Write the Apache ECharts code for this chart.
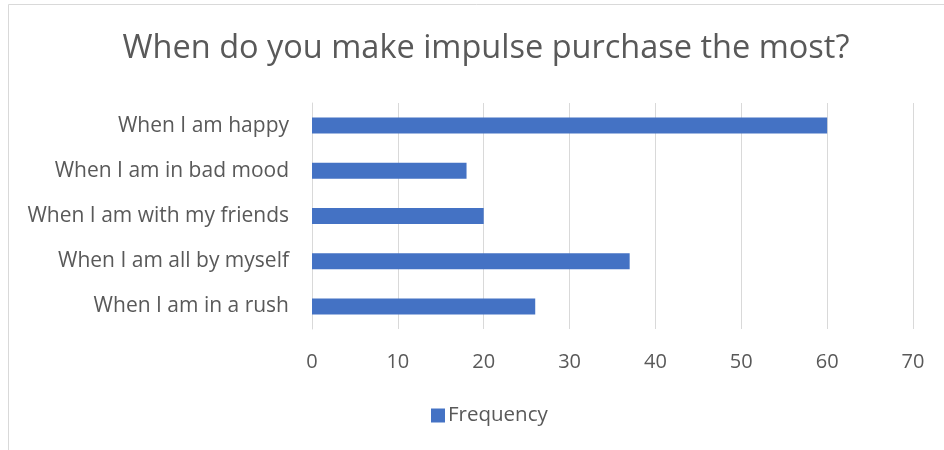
<!DOCTYPE html>
<html>
<head>
<meta charset="utf-8">
<script src="https://cdn.jsdelivr.net/npm/echarts@6/dist/echarts.min.js"></script>
<style>
  html, body { margin: 0; padding: 0; background: #fff; }
  #chart { width: 944px; height: 450px; }
</style>
</head>
<body>
<div id="chart"></div>
<script>
// Survey answers, listed top to bottom as shown
const categories = [
  'When I am happy',
  'When I am in bad mood',
  'When I am with my friends',
  'When I am all by myself',
  'When I am in a rush'
];
const frequency = [60, 18, 20, 37, 26];
const seriesName = 'Frequency';
const titleText = 'When do you make impulse purchase the most?';

const FONT = 'Open Sans';
const TEXT = '#595959';

const chart = echarts.init(document.getElementById('chart'), null, { renderer: 'canvas' });

chart.setOption({
  animation: false,
  backgroundColor: '#ffffff',
  textStyle: { fontFamily: FONT },
  title: {
    text: titleText,
    left: 481,
    top: 27,
    textAlign: 'center',
    textStyle: { fontFamily: FONT, fontSize: 32.5, fontWeight: 'normal', color: TEXT }
  },
  graphic: [{
    type: 'rect',
    silent: true,
    shape: { x: 8.5, y: 4.5, width: 960, height: 470 },
    style: { fill: 'none', stroke: '#d9d9d9', lineWidth: 1 }
  }],
  legend: {
    data: [seriesName],
    left: 426,
    top: 400,
    icon: 'rect',
    itemWidth: 14,
    itemHeight: 14,
    itemGap: 6,
    textStyle: { fontFamily: FONT, fontSize: 20.5, color: TEXT, padding: [0, 0, 0, -2] }
  },
  grid: { left: 312, right: 31, top: 103, bottom: 121, containLabel: false },
  xAxis: {
    type: 'value',
    min: 0,
    max: 70,
    interval: 10,
    axisLine: { show: false },
    axisTick: { show: false },
    splitLine: { show: true, lineStyle: { color: '#d9d9d9', width: 1 } },
    axisLabel: { fontFamily: FONT, fontSize: 20, color: TEXT, margin: 23 }
  },
  yAxis: {
    type: 'category',
    inverse: true,
    data: categories,
    axisLine: { show: true, lineStyle: { color: '#d9d9d9', width: 1 } },
    axisTick: { show: false },
    axisLabel: { fontFamily: FONT, fontSize: 21, color: TEXT, margin: 23 }
  },
  series: [{
    name: seriesName,
    type: 'bar',
    data: frequency,
    barWidth: 16,
    itemStyle: { color: '#4472c4' }
  }]
});
</script>
</body>
</html>
